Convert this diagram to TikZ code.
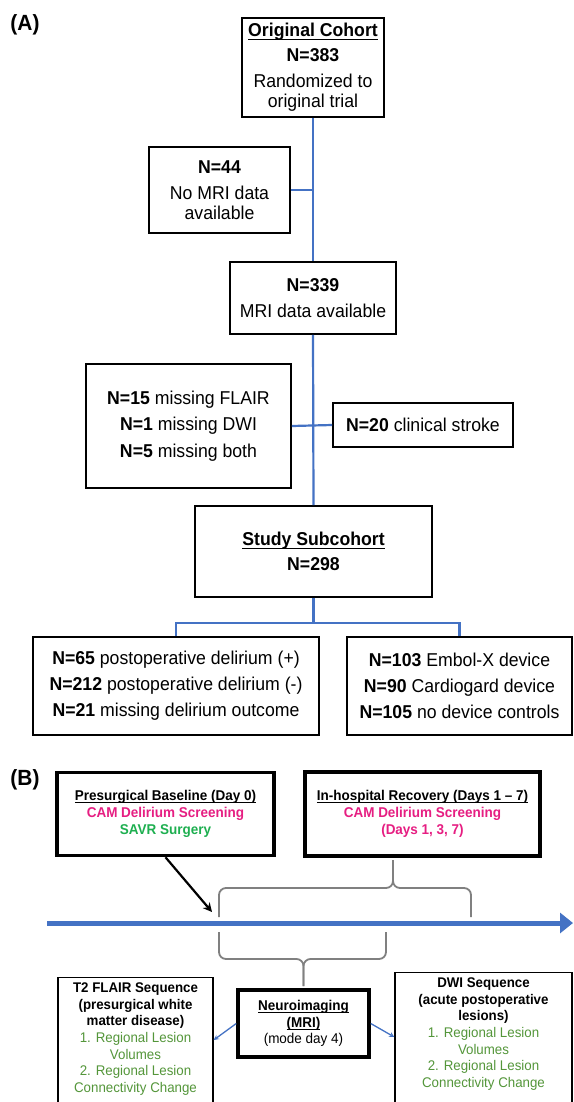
\documentclass[tikz,border=0pt]{standalone}
\usepackage{fontspec}
\setmainfont{Liberation Sans}[FakeStretch=0.95]
\usetikzlibrary{arrows.meta}
\definecolor{lineblue}{RGB}{68,114,196}
\definecolor{campink}{RGB}{230,30,130}
\definecolor{savrgreen}{RGB}{30,175,80}
\definecolor{listgreen}{RGB}{84,150,58}
\definecolor{bracegray}{RGB}{128,128,128}
% alahuzas kozel az alapvonalhoz
\newcommand{\undl}[1]{\setbox0=\hbox{#1}\rlap{\rule[-0.17em]{\wd0}{0.07em}}\box0}

\begin{document}
\begin{tikzpicture}[x=1pt,y=-1pt,>=stealth,
	box/.style={draw,rectangle,line width=1.6pt,align=center,inner sep=2pt,font=\fontsize{18.6}{20}\selectfont},
	tbox/.style={draw,rectangle,line width=3.5pt,align=center,inner sep=2pt,font=\fontsize{14.2}{16.8}\selectfont,
		execute at begin node={\setlength{\lineskiplimit}{-6pt}}},
	thinbox/.style={draw,rectangle,line width=1.4pt,inner xsep=3pt,inner ysep=5pt,font=\fontsize{14}{16.7}\selectfont,
		execute at begin node={\setlength{\lineskiplimit}{-6pt}}},
	link/.style={draw=lineblue,line width=2.2pt},
	brace/.style={draw=bracegray,line width=1.8pt,rounded corners=7pt}]

	\clip (0,0) rectangle (573,1102);
	\fill[white] (0,0) rectangle (573,1102);

	% (A) kohorsz blokkok
	\node[font=\fontsize{22}{22}\selectfont\bfseries] (labA) at (25,25) {(A)};
	\node[box,minimum width=142pt,minimum height=99pt] (orig) at (313,67.5) {\undl{\textbf{Original Cohort}}\\[5pt] \textbf{N=383}\\[6pt] Randomized to\\ original trial};
	\node[box,minimum width=141pt,minimum height=86pt] (noMRI) at (219.5,190) {\textbf{N=44}\\[6pt] No MRI data\\ available};
	\node[box,minimum width=166pt,minimum height=72pt] (mri) at (313,298) {\textbf{N=339}\\[6pt] MRI data available};
	\node[box,minimum width=205pt,minimum height=124pt] (missing) at (188.5,426) {\textbf{N=15} missing FLAIR\\[6.5pt] \textbf{N=1} missing DWI\\[6.5pt] \textbf{N=5} missing both};
	\node[box,minimum width=180pt,minimum height=44pt] (stroke) at (423,425) {\textbf{N=20} clinical stroke};
	\node[box,minimum width=237pt,minimum height=91pt] (study) at (313.5,551.5) {\undl{\textbf{Study Subcohort}}\\[5pt] \textbf{N=298}};
	\node[box,minimum width=286pt,minimum height=98pt] (delir) at (176,686) {\textbf{N=65} postoperative delirium (+)\\[6pt] \textbf{N=212} postoperative delirium (-)\\[6pt] \textbf{N=21} missing delirium outcome};
	\node[box,minimum width=225pt,minimum height=98pt] (device) at (459.5,686) {\textbf{N=103} Embol-X device\\[6pt] \textbf{N=90} Cardiogard device\\[6pt] \textbf{N=105} no device controls};

	% kek vonalak
	\draw[link] (orig.south) -- (mri.north);
	\draw[link] (noMRI.east) -- (noMRI.east -| orig.south);
	\draw[link] (mri.south) -- (study.north);
	\draw[link] (missing.east) -- (stroke.west);
	\draw[link] (study.south) -- ++(0,25) -| (delir.north);
	\draw[link] (study.south) -- ++(0,25) -| (device.north);

	% (B) idovonal
	\node[font=\fontsize{22}{22}\selectfont\bfseries] (labB) at (25,780) {(B)};
	\node[tbox,minimum width=217pt,minimum height=83pt] (pre) at (165.5,814) {\undl{\textbf{Presurgical Baseline (Day 0)}}\\ \textcolor{campink}{\textbf{CAM Delirium Screening}}\\ \textcolor{savrgreen}{\textbf{SAVR Surgery}}};
	\node[tbox,minimum width=235pt,minimum height=84pt] (hosp) at (422.5,814) {\undl{\textbf{In-hospital Recovery (Days 1 -- 7)}}\\ \textcolor{campink}{\textbf{CAM Delirium Screening}}\\ \textcolor{campink}{\textbf{(Days 1, 3, 7)}}};
	\node[tbox,minimum width=131pt,minimum height=67pt] (neuro) at (303.5,1023.5) {\undl{\textbf{Neuroimaging}}\\ \undl{\textbf{(MRI)}}\\ (mode day 4)};
	\node[thinbox,anchor=north,minimum width=155pt] (t2) at (135.5,977) {\parbox[t][140pt][t]{149pt}{\centering
		\textbf{T2 FLAIR Sequence}\\ \textbf{(presurgical white}\\ \textbf{matter disease)}\\
		\textcolor{listgreen}{1. Regional Lesion}\\ \textcolor{listgreen}{Volumes}\\
		\textcolor{listgreen}{2. Regional Lesion}\\ \textcolor{listgreen}{Connectivity Change}}};
	\node[thinbox,anchor=north,minimum width=177pt] (dwi) at (483.5,972) {\parbox[t][145pt][t]{171pt}{\centering
		\textbf{DWI Sequence}\\ \textbf{(acute postoperative}\\ \textbf{lesions)}\\
		\textcolor{listgreen}{1. Regional Lesion}\\ \textcolor{listgreen}{Volumes}\\
		\textcolor{listgreen}{2. Regional Lesion}\\ \textcolor{listgreen}{Connectivity Change}}};

	\coordinate (tstart) at (47,923);
	\coordinate (tend) at (573,923);
	\coordinate (preEnd) at (212,912);
	\draw[draw=lineblue,line width=5pt,-{Triangle[length=13pt,width=20pt]}] (tstart) -- (tend);
	\draw[-{Stealth[length=9pt,width=9pt]},line width=2.2pt] (pre.south) -- (preEnd);

	% kapcsos zarojelek
	\draw[brace] (219,917) |- (393,888) -- (393,860);
	\draw[brace] (471,917) |- (393,888) -- (393,860);
	\draw[brace] (219,932) |- (303.5,959) -- (303.5,986);
	\draw[brace] (386,932) |- (303.5,959) -- (303.5,986);

	% MRI nyilak
	\draw[->,draw=lineblue,line width=1.3pt] (neuro.west) -- ([yshift=-63pt]t2.north east);
	\draw[->,draw=lineblue,line width=1.3pt] (neuro.east) -- ([yshift=-65pt]dwi.north west);

\end{tikzpicture}
\end{document}
